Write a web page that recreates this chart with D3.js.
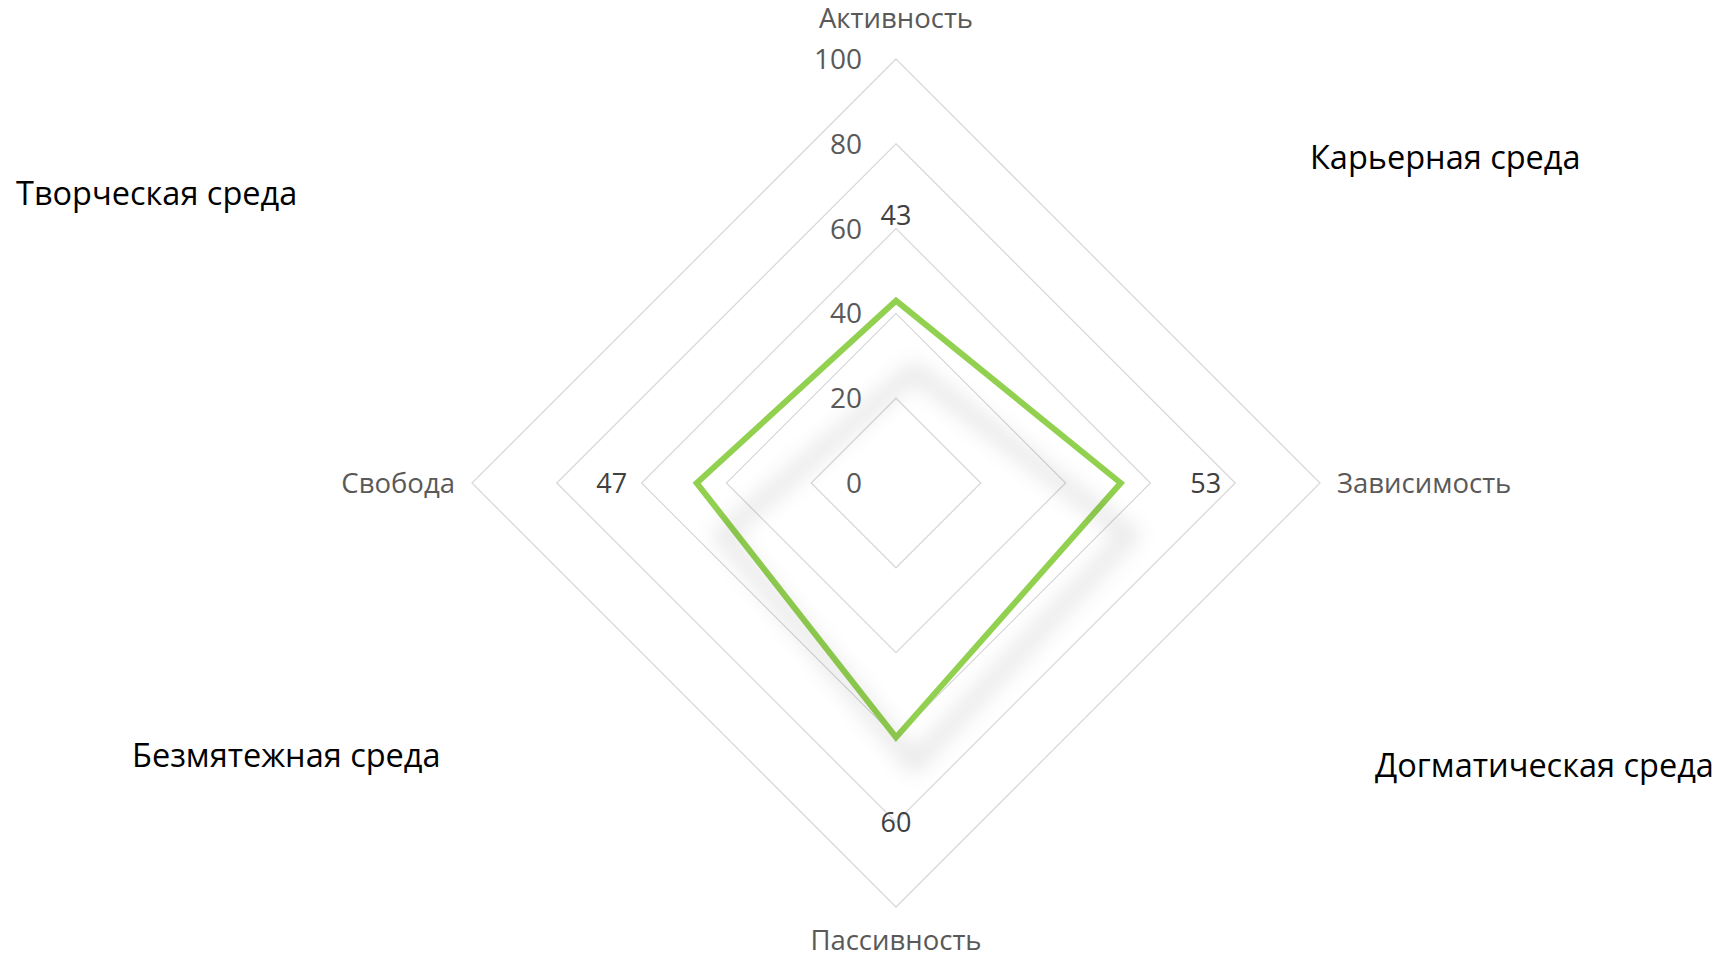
<!DOCTYPE html>
<meta charset="utf-8">
<script src="https://d3js.org/d3.v7.min.js"></script>
<title>Радар</title>
<style>
body { margin: 0; background: #fff; }
svg { font-family: "Open Sans", "Noto Sans", sans-serif; }
</style>
<svg width="1724" height="958"></svg>
<script>

var axes = ["Активность", "Зависимость", "Пассивность", "Свобода"];
var values = [43, 53, 60, 47];
var ticks = [0, 20, 40, 60, 80, 100];
var zones = ["Творческая среда", "Карьерная среда", "Безмятежная среда", "Догматическая среда"];

var svg = d3.select("svg"),
    cx = 896,
    cy = 483;

var r = d3.scaleLinear().domain([0, 100]).range([0, 424]);
var angle = d3.scalePoint().domain(d3.range(axes.length + 1)).range([0, 2 * Math.PI]);

function px(i, v) { return Math.sin(angle(i)) * r(v); }
function py(i, v) { return -Math.cos(angle(i)) * r(v); }

var defs = svg.append("defs");
var blur = defs.append("filter")
    .attr("id", "shadow")
    .attr("x", "-30%").attr("y", "-30%")
    .attr("width", "160%").attr("height", "160%");
blur.append("feGaussianBlur").attr("stdDeviation", 11);

var g = svg.append("g").attr("transform", "translate(" + cx + "," + cy + ")");

// grid rings
g.selectAll(".ring")
  .data(ticks.filter(t => t > 0))
  .join("polygon")
    .attr("class", "ring")
    .attr("points", t => axes.map((a, i) => px(i, t) + "," + py(i, t)).join(" "))
    .attr("fill", "none")
    .attr("stroke", "#d9d9d9")
    .attr("stroke-width", 1.3);

var radial = d3.lineRadial()
    .angle((d, i) => angle(i))
    .radius(d => r(d))
    .curve(d3.curveLinearClosed);

// shadow of the series
svg.append("path")
    .attr("transform", "translate(" + (cx + 18) + "," + (cy + 52) + ") scale(0.96,0.9)")
    .attr("d", radial(values))
    .attr("fill", "none")
    .attr("stroke", "#000")
    .attr("stroke-opacity", 0.1)
    .attr("stroke-width", 16)
    .attr("filter", "url(#shadow)");

g.append("path")
    .attr("d", radial(values))
    .attr("fill", "none")
    .attr("stroke", "#92d050")
    .attr("stroke-width", 6)
    .attr("stroke-linejoin", "miter");

// tick labels
g.selectAll(".tick")
  .data(ticks)
  .join("text")
    .attr("class", "tick")
    .attr("x", -34)
    .attr("y", t => -r(t))
    .attr("dy", "0.36em")
    .attr("text-anchor", "end")
    .attr("fill", "#595959")
    .style("font-size", "28px")
    .text(t => t);

// axis labels
var labelPos = [
  {x: 0, y: -r(100) - 31, anchor: "middle"},
  {x: r(100) + 17, y: 10, anchor: "start"},
  {x: 0, y: r(100) + 43, anchor: "middle"},
  {x: -r(100) - 17, y: 10, anchor: "end"}
];
g.selectAll(".axis")
  .data(axes)
  .join("text")
    .attr("class", "axis")
    .attr("x", (d, i) => labelPos[i].x)
    .attr("y", (d, i) => labelPos[i].y)
    .attr("text-anchor", (d, i) => labelPos[i].anchor)
    .attr("fill", "#595959")
    .style("font-size", "27.5px")
    .text(d => d);

// data labels
g.selectAll(".val")
  .data(values)
  .join("text")
    .attr("class", "val")
    .attr("x", (d, i) => px(i, d) + Math.sin(angle(i)) * 85)
    .attr("y", (d, i) => py(i, d) - Math.cos(angle(i)) * 85)
    .attr("dy", "0.36em")
    .attr("text-anchor", "middle")
    .attr("fill", "#404040")
    .style("font-size", "27px")
    .text(d => d);

// zone labels
var zonePos = [[16, 205], [1310, 169], [132, 767], [1375, 777]];
svg.selectAll(".zone")
  .data(zones)
  .join("text")
    .attr("class", "zone")
    .attr("x", (d, i) => zonePos[i][0])
    .attr("y", (d, i) => zonePos[i][1])
    .attr("fill", "#000")
    .style("font-size", "32.5px")
    .text(d => d);

</script>
